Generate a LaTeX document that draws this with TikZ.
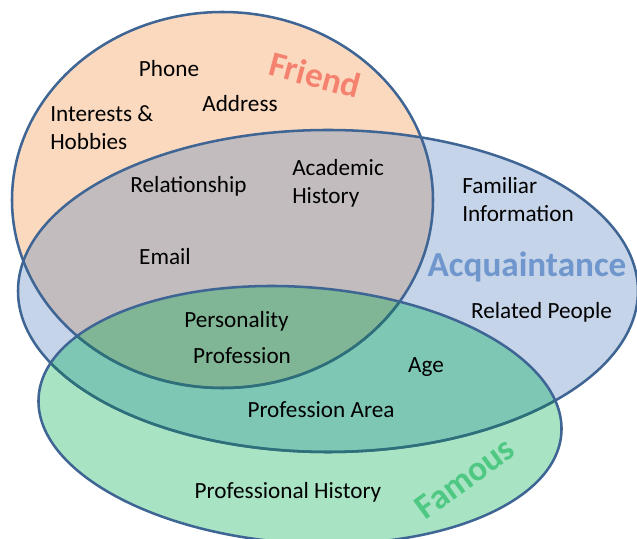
\documentclass[tikz,border=0pt]{standalone}
\usepackage{fontspec}
\setmainfont{Carlito}
\definecolor{frfill}{HTML}{FBD9BF}
\definecolor{acfill}{HTML}{C5D4E9}
\definecolor{fmfill}{HTML}{A8E4C4}
\definecolor{fracfill}{HTML}{C2BCBE}
\definecolor{acfmfill}{HTML}{7DC7B4}
\definecolor{allfill}{HTML}{80B696}
\definecolor{rim}{HTML}{3F6594}
\definecolor{rimin}{HTML}{2D7079}
\definecolor{frtxt}{HTML}{F4826F}
\definecolor{actxt}{HTML}{6F96CD}
\definecolor{fmtxt}{HTML}{4EC882}

\newcommand\friendset{(5.5625,8.475) ellipse [x radius=5.2625, y radius=4.7]}
\newcommand\acqset{(8.2,6.2) ellipse [x radius=7.75, y radius=4.025]}
\newcommand\famset{(7.5,3.1) ellipse [x radius=6.55, y radius=3.2, rotate=-4]}

\begin{document}
\begin{tikzpicture}[line width=1.8pt,
      lbl/.style={font=\fontsize{16.5}{20.5}\selectfont, inner sep=0pt, anchor=base},
      ttl/.style={font=\fontsize{25}{30}\selectfont\bfseries, inner sep=0pt}]
    \useasboundingbox (0,0) rectangle (15.925,13.475);
    \fill[frfill] \friendset;
    \fill[acfill] \acqset;
    \fill[fmfill] \famset;
    \begin{scope}
      \clip \acqset;
      \fill[acfmfill] \famset;
    \end{scope}
    \begin{scope}
      \clip \friendset;
      \fill[fracfill] \acqset;
      \clip \famset;
      \fill[allfill] \acqset;
    \end{scope}
    \draw[rim] \friendset;
    \draw[rim] \acqset;
    \begin{scope}
      \clip \famset;
      \draw[rimin] \friendset;
      \draw[rimin] \acqset;
    \end{scope}
    \draw[rim] \famset;
    \node[ttl, text=frtxt, rotate=-15] (friend) at (7.875,11.6) {Friend};
    \node[ttl, text=actxt, anchor=base] (acq) at (13.175,6.55) {Acquaintance};
    \node[ttl, text=fmtxt, rotate=36] (famous) at (11.625,1.525) {Famous};
    \node[lbl] (phone) at (4.225,11.55) {Phone};
    \node[lbl] (address) at (6.0,10.675) {Address};
    \node[lbl, anchor=base west, align=left] (hobbies) at (1.225,9.725) {Interests \&\\Hobbies};
    \node[lbl] (relation) at (4.7125,8.65) {Relationship};
    \node[lbl, anchor=base west, align=left] (academic) at (7.275,8.375) {Academic\\History};
    \node[lbl, anchor=base west, align=left] (familiar) at (11.525,7.925) {Familiar\\Information};
    \node[lbl] (email) at (4.125,6.85) {Email};
    \node[lbl] (related) at (13.5375,5.5) {Related People};
    \node[lbl] (personality) at (5.9125,5.275) {Personality};
    \node[lbl] (profession) at (6.05,4.375) {Profession};
    \node[lbl] (age) at (10.65,4.15) {Age};
    \node[lbl] (area) at (8.025,3.025) {Profession Area};
    \node[lbl] (history) at (7.2,1.0) {Professional History};
  \end{tikzpicture}
\end{document}
